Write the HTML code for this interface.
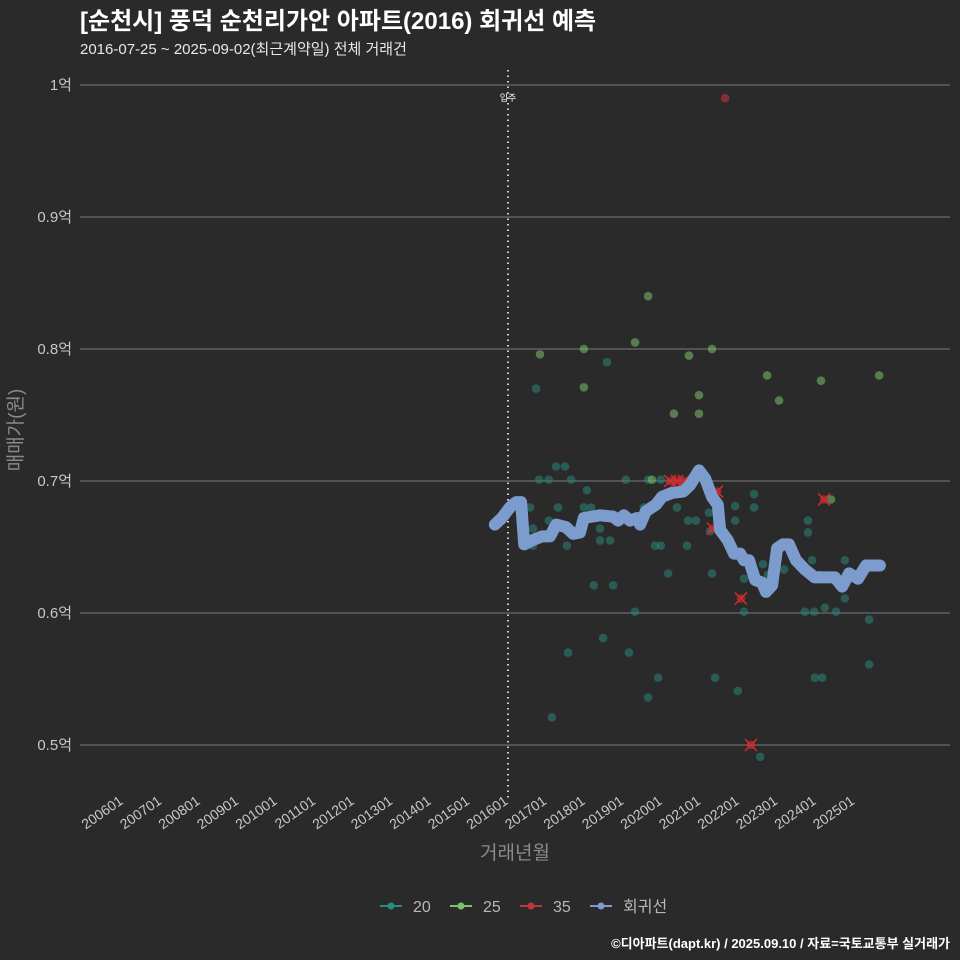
<!DOCTYPE html>
<html><head><meta charset="utf-8">
<style>
html,body{margin:0;background:#2b2a2b;width:960px;height:960px;overflow:hidden;font-family:"Liberation Sans","Noto Sans CJK KR",sans-serif;}
svg{display:block}
svg text{font-family:"Liberation Sans","Noto Sans CJK KR",sans-serif;}
</style></head>
<body>
<svg id="chart" width="960" height="960" xmlns="http://www.w3.org/2000/svg">
<rect width="960" height="960" fill="#2b2a2b"/>
<text x="80" y="29" fill="#ffffff" font-size="24" font-weight="bold">[순천시] 풍덕 순천리가안 아파트(2016) 회귀선 예측</text>
<text x="80" y="54" fill="#e8e8e8" font-size="15">2016-07-25 ~ 2025-09-02(최근계약일) 전체 거래건</text>
<g id="grid"></g><g id="xaxis"></g><g id="marks"></g>
<text transform="translate(22,430) rotate(-90)" text-anchor="middle" fill="#8a8a8a" font-size="19">매매가(원)</text>
<text x="515" y="859" text-anchor="middle" fill="#8a8a8a" font-size="19">거래년월</text>
<g id="legend"></g>
<text x="950" y="948" text-anchor="end" fill="#ffffff" font-size="13" font-weight="bold">©디아파트(dapt.kr) / 2025.09.10 / 자료=국토교통부 실거래가</text>
</svg>
<script>
const yTicks=[0.5,0.6,0.7,0.8,0.9,1.0];
const yTickLabels=["0.5억","0.6억","0.7억","0.8억","0.9억","1억"];
const xTickYears=[2006,2007,2008,2009,2010,2011,2012,2013,2014,2015,2016,2017,2018,2019,2020,2021,2022,2023,2024,2025];
const t20Dates=[2016.73,2018.57,2017.25,2017.48,2016.81,2017.06,2017.64,2019.06,2019.64,2019.97,2018.05,2016.57,2017.30,2017.97,2018.16,2017.06,2016.65,2018.39,2019.53,2020.39,2020.68,2020.88,2021.25,2016.65,2017.53,2018.39,2018.65,2019.82,2019.97,2020.65,2020.16,2021.30,2018.23,2018.73,2019.30,2018.47,2017.56,2019.14,2019.90,2021.38,2019.64,2017.14,2022.39,2022.39,2021.90,2021.90,2021.22,2023.79,2023.79,2022.62,2023.90,2022.13,2022.75,2023.17,2024.75,2024.75,2022.13,2023.71,2023.95,2024.23,2024.52,2025.38,2025.38,2021.97,2023.97,2024.16,2022.55,2024.10];
const t20Prices=[0.770,0.790,0.711,0.711,0.701,0.701,0.701,0.701,0.701,0.701,0.693,0.680,0.680,0.680,0.680,0.670,0.664,0.664,0.680,0.680,0.670,0.670,0.662,0.651,0.651,0.655,0.655,0.651,0.651,0.651,0.630,0.630,0.621,0.621,0.601,0.581,0.570,0.570,0.551,0.551,0.536,0.521,0.690,0.680,0.681,0.670,0.676,0.670,0.661,0.637,0.640,0.626,0.629,0.633,0.640,0.611,0.601,0.601,0.601,0.604,0.601,0.595,0.561,0.541,0.551,0.551,0.491,0.629];
const t25Dates=[2016.83,2017.97,2017.97,2019.30,2019.64,2020.70,2020.31,2020.96,2020.96,2021.30,2022.73,2023.04,2024.13,2025.64,2024.39,2019.74];
const t25Prices=[0.796,0.800,0.771,0.805,0.840,0.795,0.751,0.765,0.751,0.800,0.780,0.761,0.776,0.780,0.686,0.701];
const t35Dates=[2021.64,2020.21,2020.39,2020.57,2021.43,2021.32,2022.05,2022.31,2024.21];
const t35Prices=[0.990,0.700,0.700,0.700,0.692,0.664,0.611,0.500,0.686];
const regDates=[2015.66,2015.84,2016.05,2016.21,2016.34,2016.42,2016.62,2016.88,2017.09,2017.25,2017.51,2017.69,2017.87,2017.97,2018.39,2018.73,2018.86,2019.01,2019.17,2019.35,2019.43,2019.58,2019.84,2020.0,2020.26,2020.55,2020.73,2020.96,2021.12,2021.30,2021.45,2021.51,2021.71,2021.87,2022.03,2022.13,2022.26,2022.42,2022.60,2022.70,2022.86,2022.99,2023.14,2023.30,2023.48,2023.71,2023.97,2024.49,2024.68,2024.86,2025.09,2025.30,2025.66];
const regPrices=[0.667,0.672,0.680,0.684,0.684,0.652,0.655,0.658,0.658,0.667,0.665,0.660,0.661,0.672,0.674,0.673,0.670,0.674,0.670,0.672,0.667,0.677,0.682,0.688,0.691,0.692,0.697,0.708,0.702,0.688,0.682,0.663,0.655,0.645,0.645,0.640,0.640,0.625,0.623,0.616,0.621,0.649,0.652,0.652,0.640,0.633,0.627,0.627,0.620,0.630,0.626,0.636,0.636];

const NS="http://www.w3.org/2000/svg";
const xS=d=>508+(d-2016)*38.5;
const yS=v=>745-(v-0.5)*1320;
function mk(parent,tag,attrs){const e=document.createElementNS(NS,tag);for(const k in attrs)e.setAttribute(k,attrs[k]);document.getElementById(parent).appendChild(e);return e;}

yTicks.forEach((v,i)=>{
  const l=mk('grid','line',{x1:80,x2:950,y1:yS(v),y2:yS(v),stroke:'#6a6a6a','stroke-width':1.2});
  
  
  const t=mk('grid','text',{x:72,y:yS(v)+5,'text-anchor':'end',fill:'#c8c8c8','font-size':15});
  t.textContent=yTickLabels[i];
  
  
});
xTickYears.forEach(yr=>{
  const x=xS(yr);
  const t=mk('xaxis','text',{transform:`translate(${x+1},${803}) rotate(-35)`,'text-anchor':'end',fill:'#c8c8c8','font-size':14});
  t.textContent=yr+'01';
  
  
});
const vl=mk('grid','line',{x1:xS(2016),x2:xS(2016),y1:70,y2:798,stroke:'#cfcfcf','stroke-width':2,'stroke-dasharray':'1.5 4'});


const vt=mk('grid','text',{x:xS(2016),y:101,'text-anchor':'middle',fill:'#ffffff','font-size':9});
vt.textContent='입주';



t20Dates.forEach((d,i)=>{const c=mk('marks','circle',{cx:xS(d),cy:yS(t20Prices[i]),r:4.3,fill:'#2a8c80','fill-opacity':0.5});
  
  });
t25Dates.forEach((d,i)=>{const c=mk('marks','circle',{cx:xS(d),cy:yS(t25Prices[i]),r:4.3,fill:'#7dc16a','fill-opacity':0.55});
  
  });
t35Dates.forEach((d,i)=>{const x=xS(d),y=yS(t35Prices[i]);
  const c=mk('marks','circle',{cx:x,cy:y,r:4.3,fill:'#c0353a','fill-opacity':0.6});
  
  
  if(t35Prices[i]<0.95){
    const p=mk('marks','path',{d:`M${x-6} ${y-6}L${x+6} ${y+6}M${x+6} ${y-6}L${x-6} ${y+6}`,stroke:'#e02828','stroke-width':1.5});
    
    
  }});
const pts=regDates.map((d,i)=>xS(d).toFixed(1)+','+yS(regPrices[i]).toFixed(1)).join(' ');
const rl=mk('marks','polyline',{points:pts,fill:'none',stroke:'#7b9ccc','stroke-width':12,'stroke-linejoin':'round','stroke-linecap':'round'});



const legItems=[['20','#2a8c80',380],['25','#7dc16a',450],['35','#c0353a',520],['회귀선','#7b9ccc',590]];
legItems.forEach(([lab,col,x])=>{
  const l=mk('legend','line',{x1:x,x2:x+22,y1:906,y2:906,stroke:col,'stroke-width':2});
  
  
  const c=mk('legend','circle',{cx:x+11,cy:906,r:3.5,fill:col});
  
  
  const t=mk('legend','text',{x:x+33,y:912,fill:'#b8b8b8','font-size':16});
  t.textContent=lab;
  
  
});
</script>
</body></html>
